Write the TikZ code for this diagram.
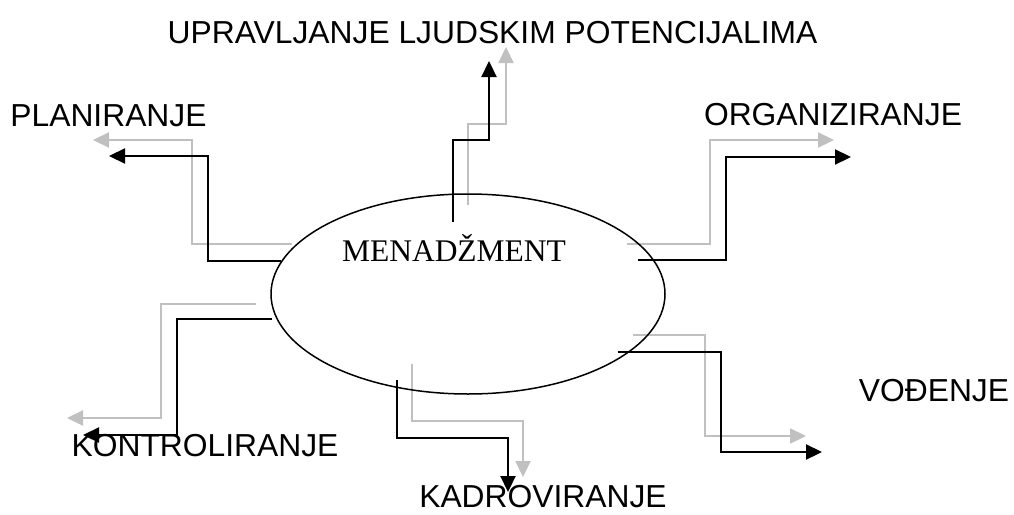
\documentclass[tikz,border=0pt]{standalone}
\usepackage{fontspec}
\setmainfont{Liberation Sans}
\newfontfamily\serifx{Liberation Serif}
\usetikzlibrary{arrows.meta,shapes.geometric}
\definecolor{lgray}{RGB}{192,192,192}
\begin{document}
\begin{tikzpicture}[x=1pt,y=-1pt,
  lbl/.style={font=\fontsize{31.8}{36}\selectfont, inner sep=0pt, anchor=base},
  conn/.style={line width=2.2pt, -{Triangle[length=16pt,width=15pt]}},
  blk/.style={conn, draw=black},
  gry/.style={conn, draw=lgray},
  oval/.style={draw=black, line width=1.5pt, ellipse, minimum width=394pt, minimum height=200pt, inner sep=0pt}]
\useasboundingbox (0,0) rectangle (1014,514);

% labels
\node[lbl] (up) at (492.5,43) {UPRAVLJANJE LJUDSKIM POTENCIJALIMA};
\node[lbl] (pl) at (108.5,126.7) {PLANIRANJE};
\node[lbl] (or) at (833,125) {ORGANIZIRANJE};
\node[lbl] (vo) at (934,401.7) {VOĐENJE};
\node[lbl] (ko) at (205,456.7) {KONTROLIRANJE};
\node[lbl] (ka) at (543,507) {KADROVIRANJE};

% connector end points
\coordinate (plg0) at (292,244); \coordinate (plg1) at (93,140);
\coordinate (plb0) at (281,261); \coordinate (plb1) at (109,156);
\coordinate (upb0) at (453,222); \coordinate (upb1) at (489,61);
\coordinate (upg0) at (468,205); \coordinate (upg1) at (506,47);
\coordinate (org0) at (627,244); \coordinate (org1) at (834,140);
\coordinate (orb0) at (638,260); \coordinate (orb1) at (851,157);
\coordinate (vog0) at (633,335); \coordinate (vog1) at (806,436);
\coordinate (vob0) at (618,352); \coordinate (vob1) at (822,452);
\coordinate (kog0) at (256,304); \coordinate (kog1) at (67,418);
\coordinate (kob0) at (272,319); \coordinate (kob1) at (83,435);
\coordinate (kab0) at (397,380); \coordinate (kab1) at (508,492);
\coordinate (kag0) at (412,364); \coordinate (kag1) at (523,477);

% gray connectors
\draw[gry] (plg0) -- ++(-100,0) |- (plg1);
\draw[gry] (upg0) -- ++(0,-81) -| (upg1);
\draw[gry] (org0) -- ++(83,0) |- (org1);
\draw[gry] (vog0) -- ++(72,0) |- (vog1);
\draw[gry] (kog0) -- ++(-95,0) |- (kog1);
\draw[gry] (kag0) -- ++(0,57) -| (kag1);

% black connectors
\draw[blk] (plb0) -- ++(-73,0) |- (plb1);
\draw[blk] (upb0) -- ++(0,-82) -| (upb1);
\draw[blk] (orb0) -- ++(88,0) |- (orb1);
\draw[blk] (vob0) -- ++(103,0) |- (vob1);
\draw[blk] (kob0) -- ++(-95,0) |- (kob1);
\draw[blk] (kab0) -- ++(0,58) -| (kab1);

% central ellipse
\node[oval] (men) at (468,294) {};
\node[font=\serifx\fontsize{31.5}{36}\selectfont, inner sep=0pt, anchor=base] (mt) at (454,261) {MENADŽMENT};
\end{tikzpicture}
\end{document}
